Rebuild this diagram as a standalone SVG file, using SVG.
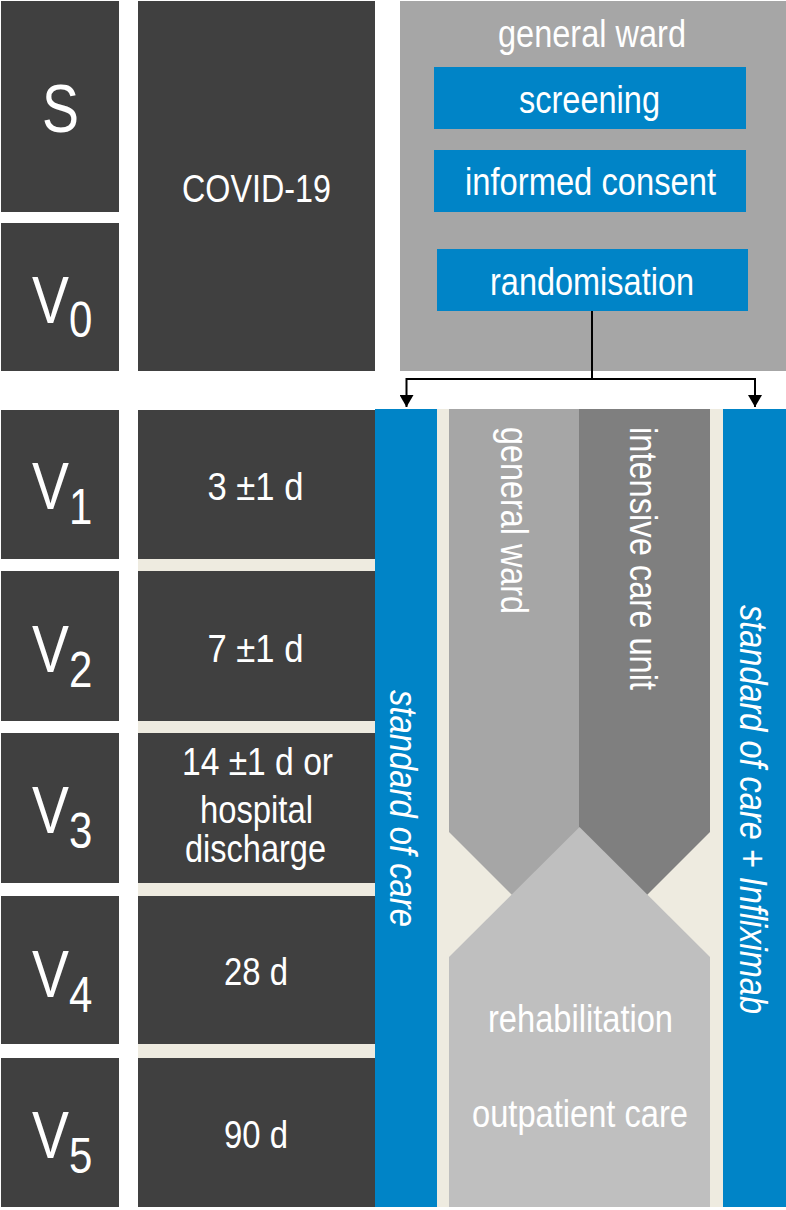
<svg xmlns="http://www.w3.org/2000/svg" width="786" height="1210" viewBox="0 0 786 1210">
<style>
  .dark{fill:#404040}
  .blue{fill:#0084C7}
  .cream{fill:#EEEBE0}
  .gw{fill:#A6A6A6}
  .icu{fill:#7F7F7F}
  .rehab{fill:#BFBFBF}
  text{font-family:"Liberation Sans",Arial,sans-serif;fill:#FFFFFF}
  .big{font-size:66px}
  .sub{font-size:50px}
  .t{font-size:38px;text-anchor:middle}
  .v{font-size:38px}
  .it{font-style:italic}
  .conn{fill:none;stroke:#000;stroke-width:2}
</style>
<defs>
  <marker id="arr" viewBox="0 0 12 14" refX="12" refY="7" markerWidth="12" markerHeight="14" markerUnits="userSpaceOnUse" orient="auto">
    <path d="M0,0 L12,7 L0,14 Z" fill="#000"/>
  </marker>
</defs>
<rect width="786" height="1210" fill="#FFFFFF"/>

<!-- left column -->
<g id="S"><rect class="dark" x="1" y="1" width="118" height="211"/><text x="60.5" y="132" style="font-size:68px;text-anchor:middle" textLength="37" lengthAdjust="spacingAndGlyphs">S</text></g>
<g id="V0"><rect class="dark" x="1" y="223" width="118" height="148"/><text transform="translate(32,323) scale(0.84,1)"><tspan class="big">V</tspan><tspan class="sub" dy="14">0</tspan></text></g>
<g id="V1"><rect class="dark" x="1" y="410" width="118" height="149"/><text transform="translate(32,509) scale(0.84,1)"><tspan class="big">V</tspan><tspan class="sub" dy="15">1</tspan></text></g>
<g id="V2"><rect class="dark" x="1" y="571" width="118" height="150"/><text transform="translate(32,672) scale(0.84,1)"><tspan class="big">V</tspan><tspan class="sub" dy="15">2</tspan></text></g>
<g id="V3"><rect class="dark" x="1" y="733" width="118" height="150"/><text transform="translate(32,833) scale(0.84,1)"><tspan class="big">V</tspan><tspan class="sub" dy="15">3</tspan></text></g>
<g id="V4"><rect class="dark" x="1" y="896" width="118" height="148"/><text transform="translate(32,997) scale(0.84,1)"><tspan class="big">V</tspan><tspan class="sub" dy="15">4</tspan></text></g>
<g id="V5"><rect class="dark" x="1" y="1058" width="118" height="149"/><text transform="translate(32,1158) scale(0.84,1)"><tspan class="big">V</tspan><tspan class="sub" dy="15">5</tspan></text></g>

<!-- middle column -->
<g id="covid"><rect class="dark" x="138" y="1" width="237" height="370"/><text class="t" x="256.5" y="202" textLength="149" lengthAdjust="spacingAndGlyphs">COVID-19</text></g>
<g id="mid-bands">
  <rect class="cream" x="138" y="559" width="237" height="12"/>
  <rect class="cream" x="138" y="721" width="237" height="12"/>
  <rect class="cream" x="138" y="883" width="237" height="13"/>
  <rect class="cream" x="138" y="1044" width="237" height="14"/>
</g>
<g id="d3"><rect class="dark" x="138" y="410" width="237" height="149"/><text class="t" x="255.5" y="500" textLength="96" lengthAdjust="spacingAndGlyphs">3 ±1 d</text></g>
<g id="d7"><rect class="dark" x="138" y="571" width="237" height="150"/><text class="t" x="255.5" y="662" textLength="96" lengthAdjust="spacingAndGlyphs">7 ±1 d</text></g>
<g id="d14"><rect class="dark" x="138" y="733" width="237" height="150"/>
  <text class="t" x="257.5" y="775" textLength="151" lengthAdjust="spacingAndGlyphs">14 ±1 d or</text>
  <text class="t" x="256.5" y="823" textLength="113" lengthAdjust="spacingAndGlyphs">hospital</text>
  <text class="t" x="255.5" y="862" textLength="141" lengthAdjust="spacingAndGlyphs">discharge</text></g>
<g id="d28"><rect class="dark" x="138" y="896" width="237" height="148"/><text class="t" x="256" y="985" textLength="64" lengthAdjust="spacingAndGlyphs">28 d</text></g>
<g id="d90"><rect class="dark" x="138" y="1058" width="237" height="149"/><text class="t" x="256" y="1148" textLength="64" lengthAdjust="spacingAndGlyphs">90 d</text></g>

<!-- top right -->
<g id="ward-top"><rect class="gw" x="400" y="1" width="386" height="370"/><text class="t" x="592" y="47" textLength="188" lengthAdjust="spacingAndGlyphs">general ward</text></g>
<g id="screening"><rect class="blue" x="434" y="67" width="312" height="62"/><text class="t" x="589.5" y="113" textLength="141" lengthAdjust="spacingAndGlyphs">screening</text></g>
<g id="consent"><rect class="blue" x="434" y="150" width="312" height="62"/><text class="t" x="590.5" y="195" textLength="251" lengthAdjust="spacingAndGlyphs">informed consent</text></g>
<g id="random"><rect class="blue" x="437" y="249" width="311" height="62"/><text class="t" x="592" y="295" textLength="204" lengthAdjust="spacingAndGlyphs">randomisation</text></g>

<!-- bottom right -->
<g id="arms-bg"><rect class="cream" x="437" y="409" width="286" height="798"/></g>
<g id="soc"><rect class="blue" x="375" y="409" width="62" height="798"/><text class="v it" transform="translate(390,690) rotate(90)" x="0" y="0" textLength="237" lengthAdjust="spacingAndGlyphs">standard of care</text></g>
<g id="ward-col"><path class="gw" d="M449,409 H579 V832 L514,897 L449,832 Z"/><text class="v" transform="translate(501,427) rotate(90)" x="0" y="0" textLength="187" lengthAdjust="spacingAndGlyphs">general ward</text></g>
<g id="icu-col"><path class="icu" d="M579,409 H710 V832 L645,897 L579,832 Z"/><text class="v" transform="translate(630,427) rotate(90)" x="0" y="0" textLength="263" lengthAdjust="spacingAndGlyphs">intensive care unit</text></g>
<g id="rehab"><path class="rehab" d="M579.5,827 L710,957 V1207 H449 V957 Z"/>
  <text class="t" x="580.5" y="1032" textLength="185" lengthAdjust="spacingAndGlyphs">rehabilitation</text>
  <text class="t" x="580" y="1127" textLength="216" lengthAdjust="spacingAndGlyphs">outpatient care</text></g>
<g id="socinf"><rect class="blue" x="723" y="409" width="63" height="798"/><text class="v it" transform="translate(740,605) rotate(90)" x="0" y="0" textLength="409" lengthAdjust="spacingAndGlyphs">standard of care + Infliximab</text></g>

<!-- connectors -->
<g id="connectors">
  <path class="conn" d="M592,311 V379"/>
  <path class="conn" d="M592,379 H406.5 V407" marker-end="url(#arr)"/>
  <path class="conn" d="M592,379 H755 V407" marker-end="url(#arr)"/>
</g>
</svg>
